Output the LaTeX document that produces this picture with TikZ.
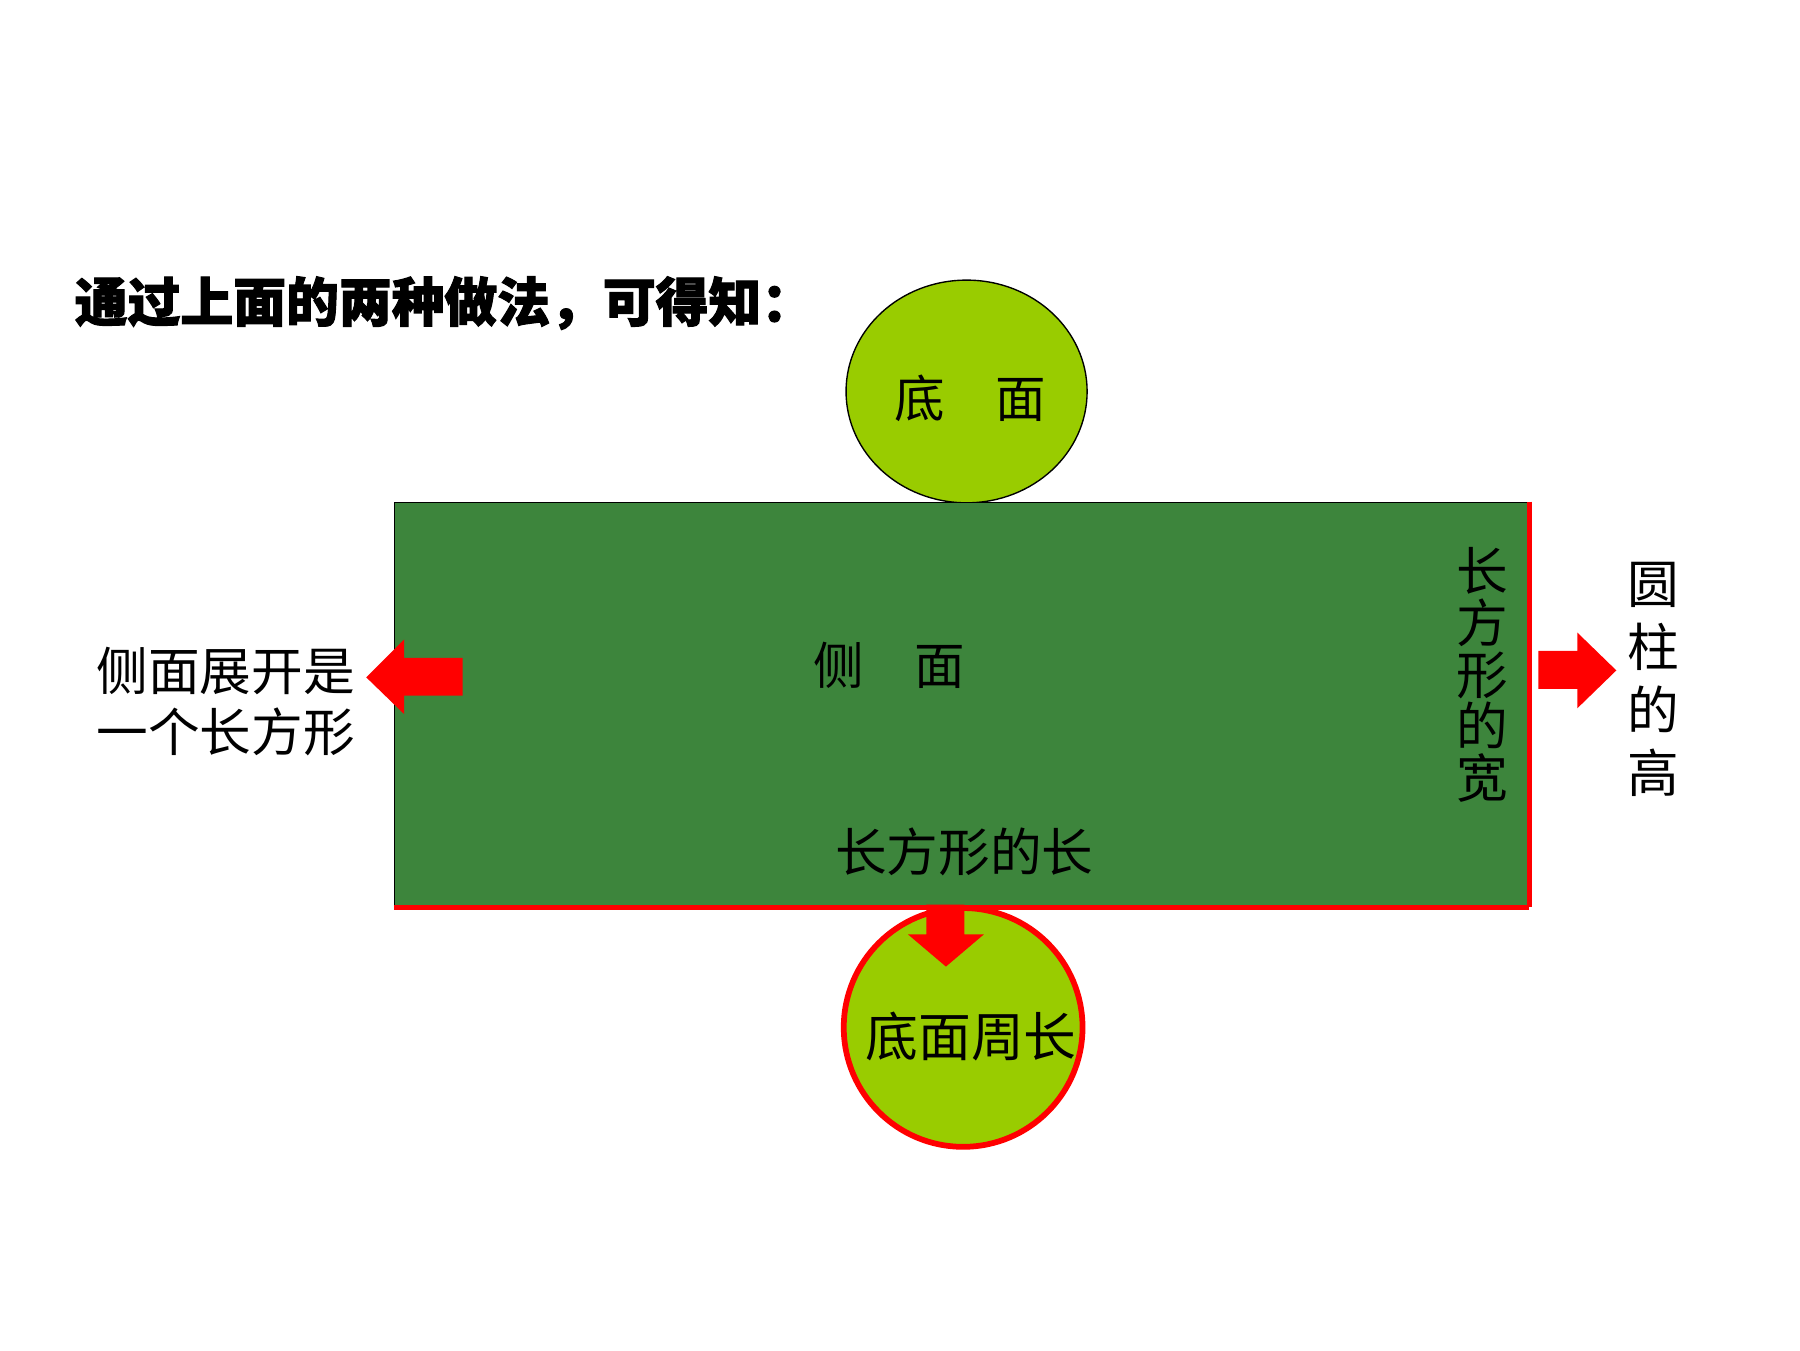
\documentclass[tikz,border=0pt]{standalone}
\usepackage{fontspec}
\usetikzlibrary{shapes.geometric}
\setmainfont{Noto Sans CJK SC}
\newfontfamily\titlefont{Noto Sans CJK SC}[BoldFeatures={FakeBold=2}]
\definecolor{lightgreen}{RGB}{153,204,0}
\definecolor{darkgreen}{RGB}{61,133,60}
\definecolor{pptred}{RGB}{255,0,0}
\tikzset{
  lbl/.style={inner sep=0pt, text=black, font={\fontsize{45}{45}\selectfont}},
  vlbl/.style={lbl, align=center},
  blockarrow/.style={fill=pptred, draw=none},
}
\begin{document}
\begin{tikzpicture}[x=1pt,y=-1pt]
\useasboundingbox (0,0) rectangle (1568,1176);
\fill[white] (0,0) rectangle (1568,1176);

% title
\node[lbl, anchor=west, font={\titlefont\fontsize{46}{46}\selectfont\bfseries}] (title) at (65,264) {通过上面的两种做法，可得知：};

% top base ellipse
\node[ellipse, draw=black, line width=1.2pt, fill=lightgreen, minimum width=210pt, minimum height=194pt, inner sep=0pt] (topbase) at (842,341) {};
\node[lbl, font={\fontsize{44}{44}\selectfont}] (toplbl) at (845,347) {底　面};

% bottom base circle
\node[circle, draw=pptred, line width=5pt, fill=lightgreen, minimum size=208pt, inner sep=0pt] (botbase) at (839,895) {};

% lateral rectangle
\node[rectangle, draw=black, line width=1.2pt, fill=darkgreen, minimum width=988pt, minimum height=352pt, inner sep=0pt, anchor=north west] (side) at (343,437) {};
\draw[pptred, line width=4.5pt] (side.north east) -- (side.south east);
\draw[pptred, line width=4.5pt] (side.south west) -- (side.south east);

\node[lbl, font={\fontsize{44}{44}\selectfont}] (sidelbl) at (775,580) {侧　面};
\node[lbl] (lenlbl) at (840,742) {长方形的长};
\node[vlbl] (widlbl) at (1291,588) {长\\方\\形\\的\\宽};

\node[lbl, font={\fontsize{46}{46}\selectfont}] (circlbl) at (846,903) {底面周长};

% left text and arrow
\node[vlbl, align=left, anchor=west, font={\fontsize{45}{53}\selectfont}] (leftlbl) at (84,611) {侧面展开是\\一个长方形};
\coordinate (la) at (319,590);
\fill[blockarrow] (la) -- ++(33,-33) -- ++(0,16) -- ++(51,0) -- ++(0,33) -- ++(-51,0) -- ++(0,16) -- cycle;

% right arrow and text
\coordinate (ra) at (1408,584);
\fill[blockarrow] (ra) -- ++(-34,-33) -- ++(0,16) -- ++(-34,0) -- ++(0,33) -- ++(34,0) -- ++(0,17) -- cycle;
\node[vlbl, font={\fontsize{45}{55}\selectfont}] (rightlbl) at (1440,592) {圆\\柱\\的\\高};

% bottom arrow
\coordinate (ba) at (824,842);
\fill[blockarrow] (ba) -- ++(-33,-28) -- ++(16,0) -- ++(0,-26) -- ++(33,0) -- ++(0,26) -- ++(17,0) -- cycle;
\end{tikzpicture}
\end{document}
